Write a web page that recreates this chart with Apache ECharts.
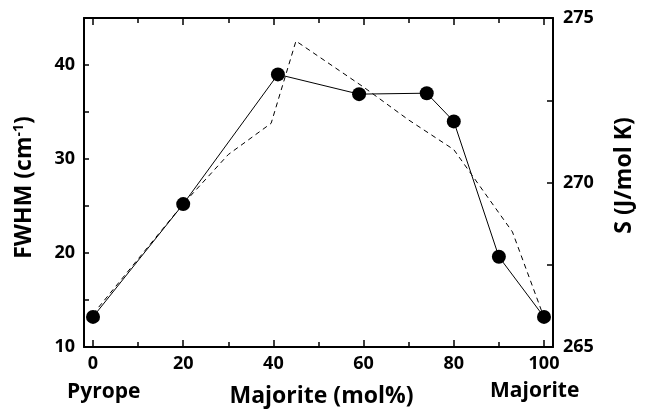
<!DOCTYPE html>
<html>
<head>
<meta charset="utf-8">
<script src="https://cdn.jsdelivr.net/npm/echarts@6/dist/echarts.min.js"></script>
<style>
html,body{margin:0;padding:0;background:#fff;}
#chart{width:648px;height:415px;}
</style>
</head>
<body>
<div id="chart"></div>
<script>
// Composition (mol% majorite) and FWHM values (solid line with markers, left axis)
const fwhmX = [0, 20, 41, 59, 74, 80, 90, 100];
const fwhmY = [13.2, 25.2, 39.0, 36.9, 37.0, 34.0, 19.6, 13.2];
// Entropy (dashed line, right axis)
const entX = [0, 20, 30, 39.5, 45, 60, 70, 80, 93, 100];
const entY = [266.0, 269.35, 270.85, 271.8, 274.3, 272.9, 271.9, 271.0, 268.5, 265.9];
// Tick labels / tick positions
const xLabels = [0, 20, 40, 60, 80, 100];
const xMinorTicks = [10, 30, 50, 70, 90];
const yLeftLabels = [10, 20, 30, 40];
const yLeftTicks = [10, 15, 20, 25, 30, 35, 40];
const yRightLabels = [265, 270, 275];
const yRightTicks = [265, 267.5, 270, 272.5, 275];

const FONT = '"Open Sans", "Noto Sans", sans-serif';
const labelStyle = {color: '#000', fontFamily: FONT, fontWeight: 'bold', fontSize: 18};
const lineStyle = {color: '#000', width: 2};
const TITLE = 23;
const END = 21;

function xAx(pos, ticks, len, showLabel, showLine, extra) {
  return Object.assign({
    type: 'value', position: pos, min: -2, max: 102,
    axisLine: {show: showLine, onZero: false, lineStyle: lineStyle},
    axisTick: {show: true, inside: true, length: len, customValues: ticks, lineStyle: {color: '#000', width: 1.5}},
    axisLabel: showLabel ? Object.assign({show: true, margin: 8, customValues: xLabels}, labelStyle) : {show: false},
    splitLine: {show: false}
  }, extra || {});
}

const chart = echarts.init(document.getElementById('chart'));
chart.setOption({
  animation: false,
  backgroundColor: '#fff',
  grid: {left: 84, right: 95, top: 18, bottom: 68, containLabel: false},
  xAxis: [
    xAx('bottom', xLabels, 7, true, true, {
      name: 'Majorite (mol%)', nameLocation: 'middle', nameGap: 38,
      nameTextStyle: {color: '#000', fontFamily: FONT, fontWeight: 'bold', fontSize: TITLE, padding: [0, 0, 0, 6]}
    }),
    xAx('bottom', xMinorTicks, 5, false, false),
    xAx('top', xLabels, 7, false, true),
    xAx('top', xMinorTicks, 5, false, false)
  ],
  yAxis: [
    {
      type: 'value', position: 'left', min: 10, max: 45,
      axisLine: {show: true, onZero: false, lineStyle: lineStyle},
      axisTick: {show: true, inside: true, length: 5, customValues: yLeftTicks, lineStyle: {color: '#000', width: 1.5}},
      axisLabel: Object.assign({margin: 9, customValues: yLeftLabels}, labelStyle),
      splitLine: {show: false},
      name: '{a|FWHM (cm}{s|-1}{a|)}', nameLocation: 'middle', nameGap: 48, nameRotate: 90,
      nameTextStyle: {
        padding: [0, 10, 0, 0],
        rich: {
          a: {color: '#000', fontFamily: FONT, fontWeight: 'bold', fontSize: TITLE},
          s: {color: '#000', fontFamily: FONT, fontWeight: 'bold', fontSize: 14, verticalAlign: 'top', padding: [0, 0, 10, 0]}
        }
      }
    },
    {
      type: 'value', position: 'right', min: 265, max: 275,
      axisLine: {show: true, onZero: false, lineStyle: lineStyle},
      axisTick: {show: true, inside: true, length: 6, customValues: yRightTicks, lineStyle: {color: '#000', width: 1.5}},
      axisLabel: Object.assign({margin: 10, customValues: yRightLabels}, labelStyle),
      splitLine: {show: false},
      name: 'S (J/mol K)', nameLocation: 'middle', nameGap: 60, nameRotate: 90,
      nameTextStyle: {color: '#000', fontFamily: FONT, fontWeight: 'bold', fontSize: TITLE, padding: [0, 0, 0, 14]}
    }
  ],
  graphic: [
    {type: 'text', left: 67, top: 382, style: {text: 'Pyrope', fill: '#000', font: 'bold ' + END + 'px ' + FONT}},
    {type: 'text', left: 490, top: 381, style: {text: 'Majorite', fill: '#000', font: 'bold ' + END + 'px ' + FONT}}
  ],
  series: [
    {
      type: 'line', xAxisIndex: 0, yAxisIndex: 1,
      data: entX.map((x, i) => [x, entY[i]]),
      showSymbol: false, symbol: 'none',
      lineStyle: {color: '#000', width: 1, type: [5, 4]},
      z: 2
    },
    {
      type: 'line', xAxisIndex: 0, yAxisIndex: 0,
      data: fwhmX.map((x, i) => [x, fwhmY[i]]),
      symbol: 'circle', symbolSize: 14,
      itemStyle: {color: '#000'},
      lineStyle: {color: '#000', width: 1},
      z: 3
    }
  ]
});
</script>
</body>
</html>
